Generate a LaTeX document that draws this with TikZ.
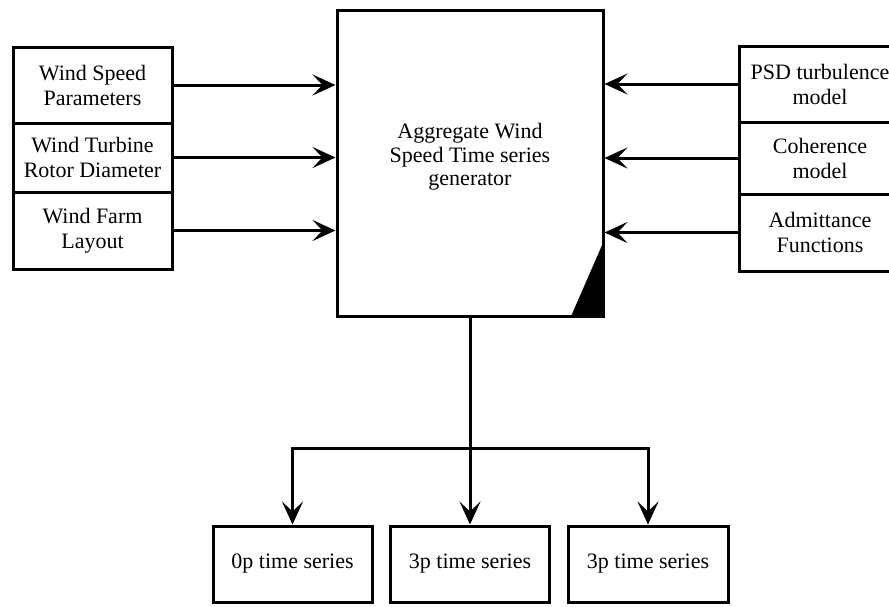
\documentclass[tikz,border=0pt]{standalone}
\usepackage{fontspec}
\setmainfont{Liberation Serif}
\usetikzlibrary{arrows.meta,calc}
\tikzset{
  box/.style={draw, line width=3pt, inner sep=0pt, align=center,
    font=\fontsize{22}{25}\selectfont},
  lbl/.style={inner sep=0pt, align=center, font=\fontsize{22}{23.5}\selectfont},
  arr/.style={line width=3pt, -{Stealth[length=23pt,width=21pt,inset=10pt]}}
}
\begin{document}
\begin{tikzpicture}
\useasboundingbox (0,0) rectangle (889pt,-606pt);
\clip (0,0) rectangle (889pt,-606pt);
% main block
\node[box, minimum width=266pt, minimum height=306pt] (main) at (470pt,-163pt) {};
\node[lbl] (maintext) at (470pt,-157pt) {Aggregate Wind\\Speed Time series\\generator};
\fill (main.south east) -- ([xshift=-34pt]main.south east) -- ([yshift=78pt]main.south east) -- cycle;
% left inputs
\node[box, minimum width=159pt, minimum height=76pt] (l1) at (92.5pt,-85pt) {Wind Speed\\Parameters};
\node[box, minimum width=159pt, minimum height=69pt] (l2) at (92.5pt,-157.5pt) {Wind Turbine\\Rotor Diameter};
\node[box, minimum width=159pt, minimum height=77pt] (l3) at (92.5pt,-230.5pt) {Wind Farm\\Layout};
% right inputs
\node[box, minimum width=162pt, minimum height=76pt] (r1) at (820pt,-84pt) {PSD turbulence\\model};
\node[box, minimum width=162pt, minimum height=72pt] (r2) at (820pt,-158pt) {Coherence\\model};
\node[box, minimum width=162pt, minimum height=77pt] (r3) at (820pt,-232.5pt) {Admittance\\Functions};
% outputs
\node[box, minimum width=159pt, minimum height=76pt] (b1) at (292.5pt,-564pt) {0p time series};
\node[box, minimum width=159pt, minimum height=76pt] (b2) at (470pt,-564pt) {3p time series};
\node[box, minimum width=160pt, minimum height=76pt] (b3) at (648pt,-564pt) {3p time series};
% connectors
\foreach \n in {l1,l2,l3} \draw[arr] (\n.east) -- (main.west |- \n.east);
\foreach \n in {r1,r2,r3} \draw[arr] (\n.west) -- (main.east |- \n.west);
\coordinate (split) at (470pt,-448pt);
\draw[arr] (main.south) -- (b2.north);
\draw[arr] (split) -| (b1.north);
\draw[arr] (split) -| (b3.north);
\end{tikzpicture}
\end{document}
